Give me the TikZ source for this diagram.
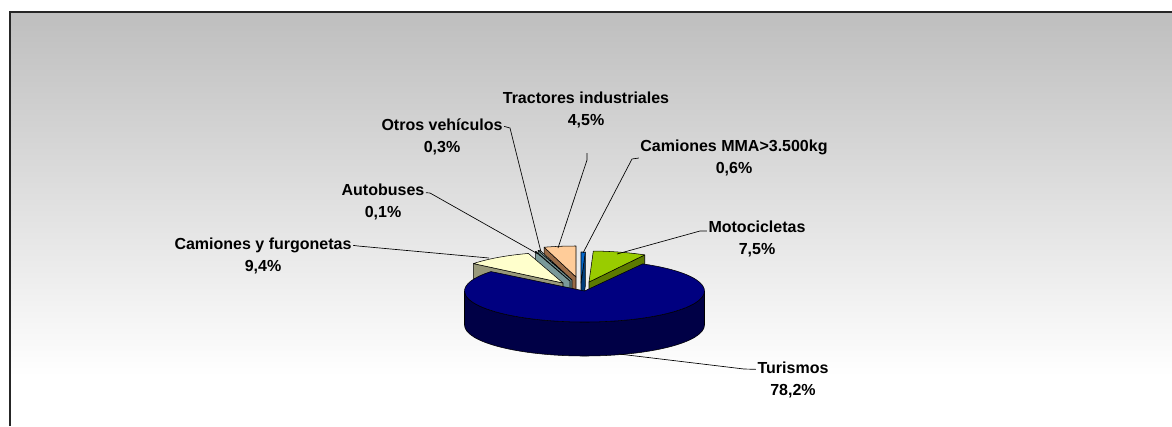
\documentclass[tikz,border=0pt]{standalone}
\usepackage{fontspec}
\setmainfont{Liberation Sans}
\definecolor{bgtop}{HTML}{BEBEBE}
\definecolor{tutop}{HTML}{000080}
\definecolor{tuside}{HTML}{000046}
\definecolor{motop}{HTML}{99CC00}
\definecolor{moside}{HTML}{5C7A00}
\definecolor{cftop}{HTML}{FFFFCC}
\definecolor{cfside}{HTML}{99997A}
\definecolor{autop}{HTML}{CCFFFF}
\definecolor{auside}{HTML}{7A9999}
\definecolor{ottop}{HTML}{A6CACA}
\definecolor{otside}{HTML}{6F8F8F}
\definecolor{trtop}{HTML}{FFCC99}
\definecolor{trside}{HTML}{996B47}
\definecolor{mmtop}{HTML}{0066CC}
\definecolor{mmside}{HTML}{003D7A}
\begin{document}
\begin{tikzpicture}[x=0.75pt,y=-0.75pt,
    face/.style={draw=black,line width=0.4pt,line join=round},
    lbl/.style={font=\fontsize{12}{16.5}\selectfont\bfseries,align=center,inner sep=1pt},
    lead/.style={draw=black,line width=0.5pt}]
                \useasboundingbox (0,0) rectangle (1172,426);
                \shade[top color=bgtop,bottom color=white] (9,11) rectangle (1172,376);
                \draw[line width=1.5pt,black!85] (9.5,426) -- (9.5,11.5) -- (1172,11.5);
                % apexes of the slices
                \coordinate (tr) at (576,277);
                \coordinate (ot) at (572,280);
                \coordinate (au) at (570,281);
                \coordinate (cf) at (563,283);
                \coordinate (mm) at (581,283);
                \coordinate (mo) at (589,282);
                \coordinate (tu) at (584.5,291);
                % back slices first
                \filldraw[face,fill=trside] (tr) -- ++(253.9:115 and 31) -- ++(0,34) -- ++(73.9:115 and 31) -- cycle;
                \filldraw[face,fill=trtop] (tr) -- ++(253.9:115 and 31) arc[start angle=253.9,end angle=270,x radius=115,y radius=31] -- cycle;
                \filldraw[face,fill=otside] (ot) -- ++(252.83:115 and 31) -- ++(0,34) -- ++(72.83:115 and 31) -- cycle;
                \filldraw[face,fill=ottop] (ot) -- ++(252.83:115 and 31) arc[start angle=252.83,end angle=253.9,x radius=115,y radius=31] -- cycle;
                \filldraw[face,fill=auside] (au) -- ++(252.47:115 and 31) -- ++(0,34) -- ++(72.47:115 and 31) -- cycle;
                \filldraw[face,fill=autop] (au) -- ++(252.47:115 and 31) arc[start angle=252.47,end angle=252.83,x radius=115,y radius=31] -- cycle;
                \filldraw[face,fill=cfside] (cf) -- ++(218.83:115 and 31) -- ++(0,34) -- ++(38.83:115 and 31) -- cycle;
                \filldraw[face,fill=cftop] (cf) -- ++(218.83:115 and 31) arc[start angle=218.83,end angle=252.47,x radius=115,y radius=31] -- cycle;
                \filldraw[face,fill=mmside] (mm) -- ++(-87.85:115 and 31) -- ++(0,34) -- ++(92.15:115 and 31) -- cycle;
                \filldraw[face,fill=mmtop] (mm) -- ++(-90:115 and 31) arc[start angle=-90,end angle=-87.85,x radius=115,y radius=31] -- cycle;
                \filldraw[face,fill=moside] (mo) -- ++(-61.01:115 and 31) -- ++(0,34) -- ++(118.99:115 and 31) -- cycle;
                \filldraw[face,fill=motop] (mo) -- ++(-87.85:115 and 31) arc[start angle=-87.85,end angle=-61.01,x radius=115,y radius=31] -- cycle;
                % Turismos in front
                \filldraw[face,fill=tuside] (tu) ++(0:120 and 31) arc[start angle=0,end angle=180,x radius=120,y radius=31] -- ++(0,34) arc[start angle=180,end angle=0,x radius=120,y radius=31] -- cycle;
                \filldraw[face,fill=tutop] (tu) -- ++(-61.01:120 and 31) arc[start angle=-61.01,end angle=218.83,x radius=120,y radius=31] -- cycle;
                % labels
                \node[lbl] (ltr) at (586,110) {Tractores industriales\\4,5\%};
                \node[lbl] (lot) at (442,137) {Otros vehículos\\0,3\%};
                \node[lbl] (lmm) at (734,158) {Camiones MMA>3.500kg\\0,6\%};
                \node[lbl] (lau) at (383,202) {Autobuses\\0,1\%};
                \node[lbl] (lmo) at (757,239) {Motocicletas\\7,5\%};
                \node[lbl] (lcf) at (263,256) {Camiones y furgonetas\\9,4\%};
                \node[lbl] (ltu) at (793,380) {Turismos\\78,2\%};
                % leader lines
                \coordinate (tr-a) at (558,248);
                \coordinate (tr-b) at (587,160);
                \coordinate (tr-c) at (587,153);
                \coordinate (ot-a) at (541,252);
                \coordinate (ot-b) at (510,128);
                \coordinate (au-a) at (538,254);
                \coordinate (au-b) at (430,193);
                \coordinate (cf-a) at (489,258);
                \coordinate (cf-b) at (358,246);
                \coordinate (mm-a) at (583,253);
                \coordinate (mm-b) at (632,159);
                \coordinate (mo-a) at (617,254);
                \coordinate (mo-b) at (700,231);
                \coordinate (tu-a) at (619,354);
                \coordinate (tu-b) at (744,369);
                \draw[lead] (tr-a) -- (tr-b) -- (tr-c);
                \draw[lead] (ot-a) -- (ot-b) -- ([yshift=8pt]lot.east);
                \draw[lead] (au-a) -- (au-b) -- ([yshift=7pt]lau.east);
                \draw[lead] (cf-a) -- (cf-b) -- ([yshift=8pt]lcf.east);
                \draw[lead] (mm-a) -- (mm-b) -- (lmm.west);
                \draw[lead] (mo-a) -- (mo-b) -- ([yshift=6pt]lmo.west);
                \draw[lead] (tu-a) -- (tu-b) -- ([yshift=8pt]ltu.west);
\end{tikzpicture}
\end{document}
